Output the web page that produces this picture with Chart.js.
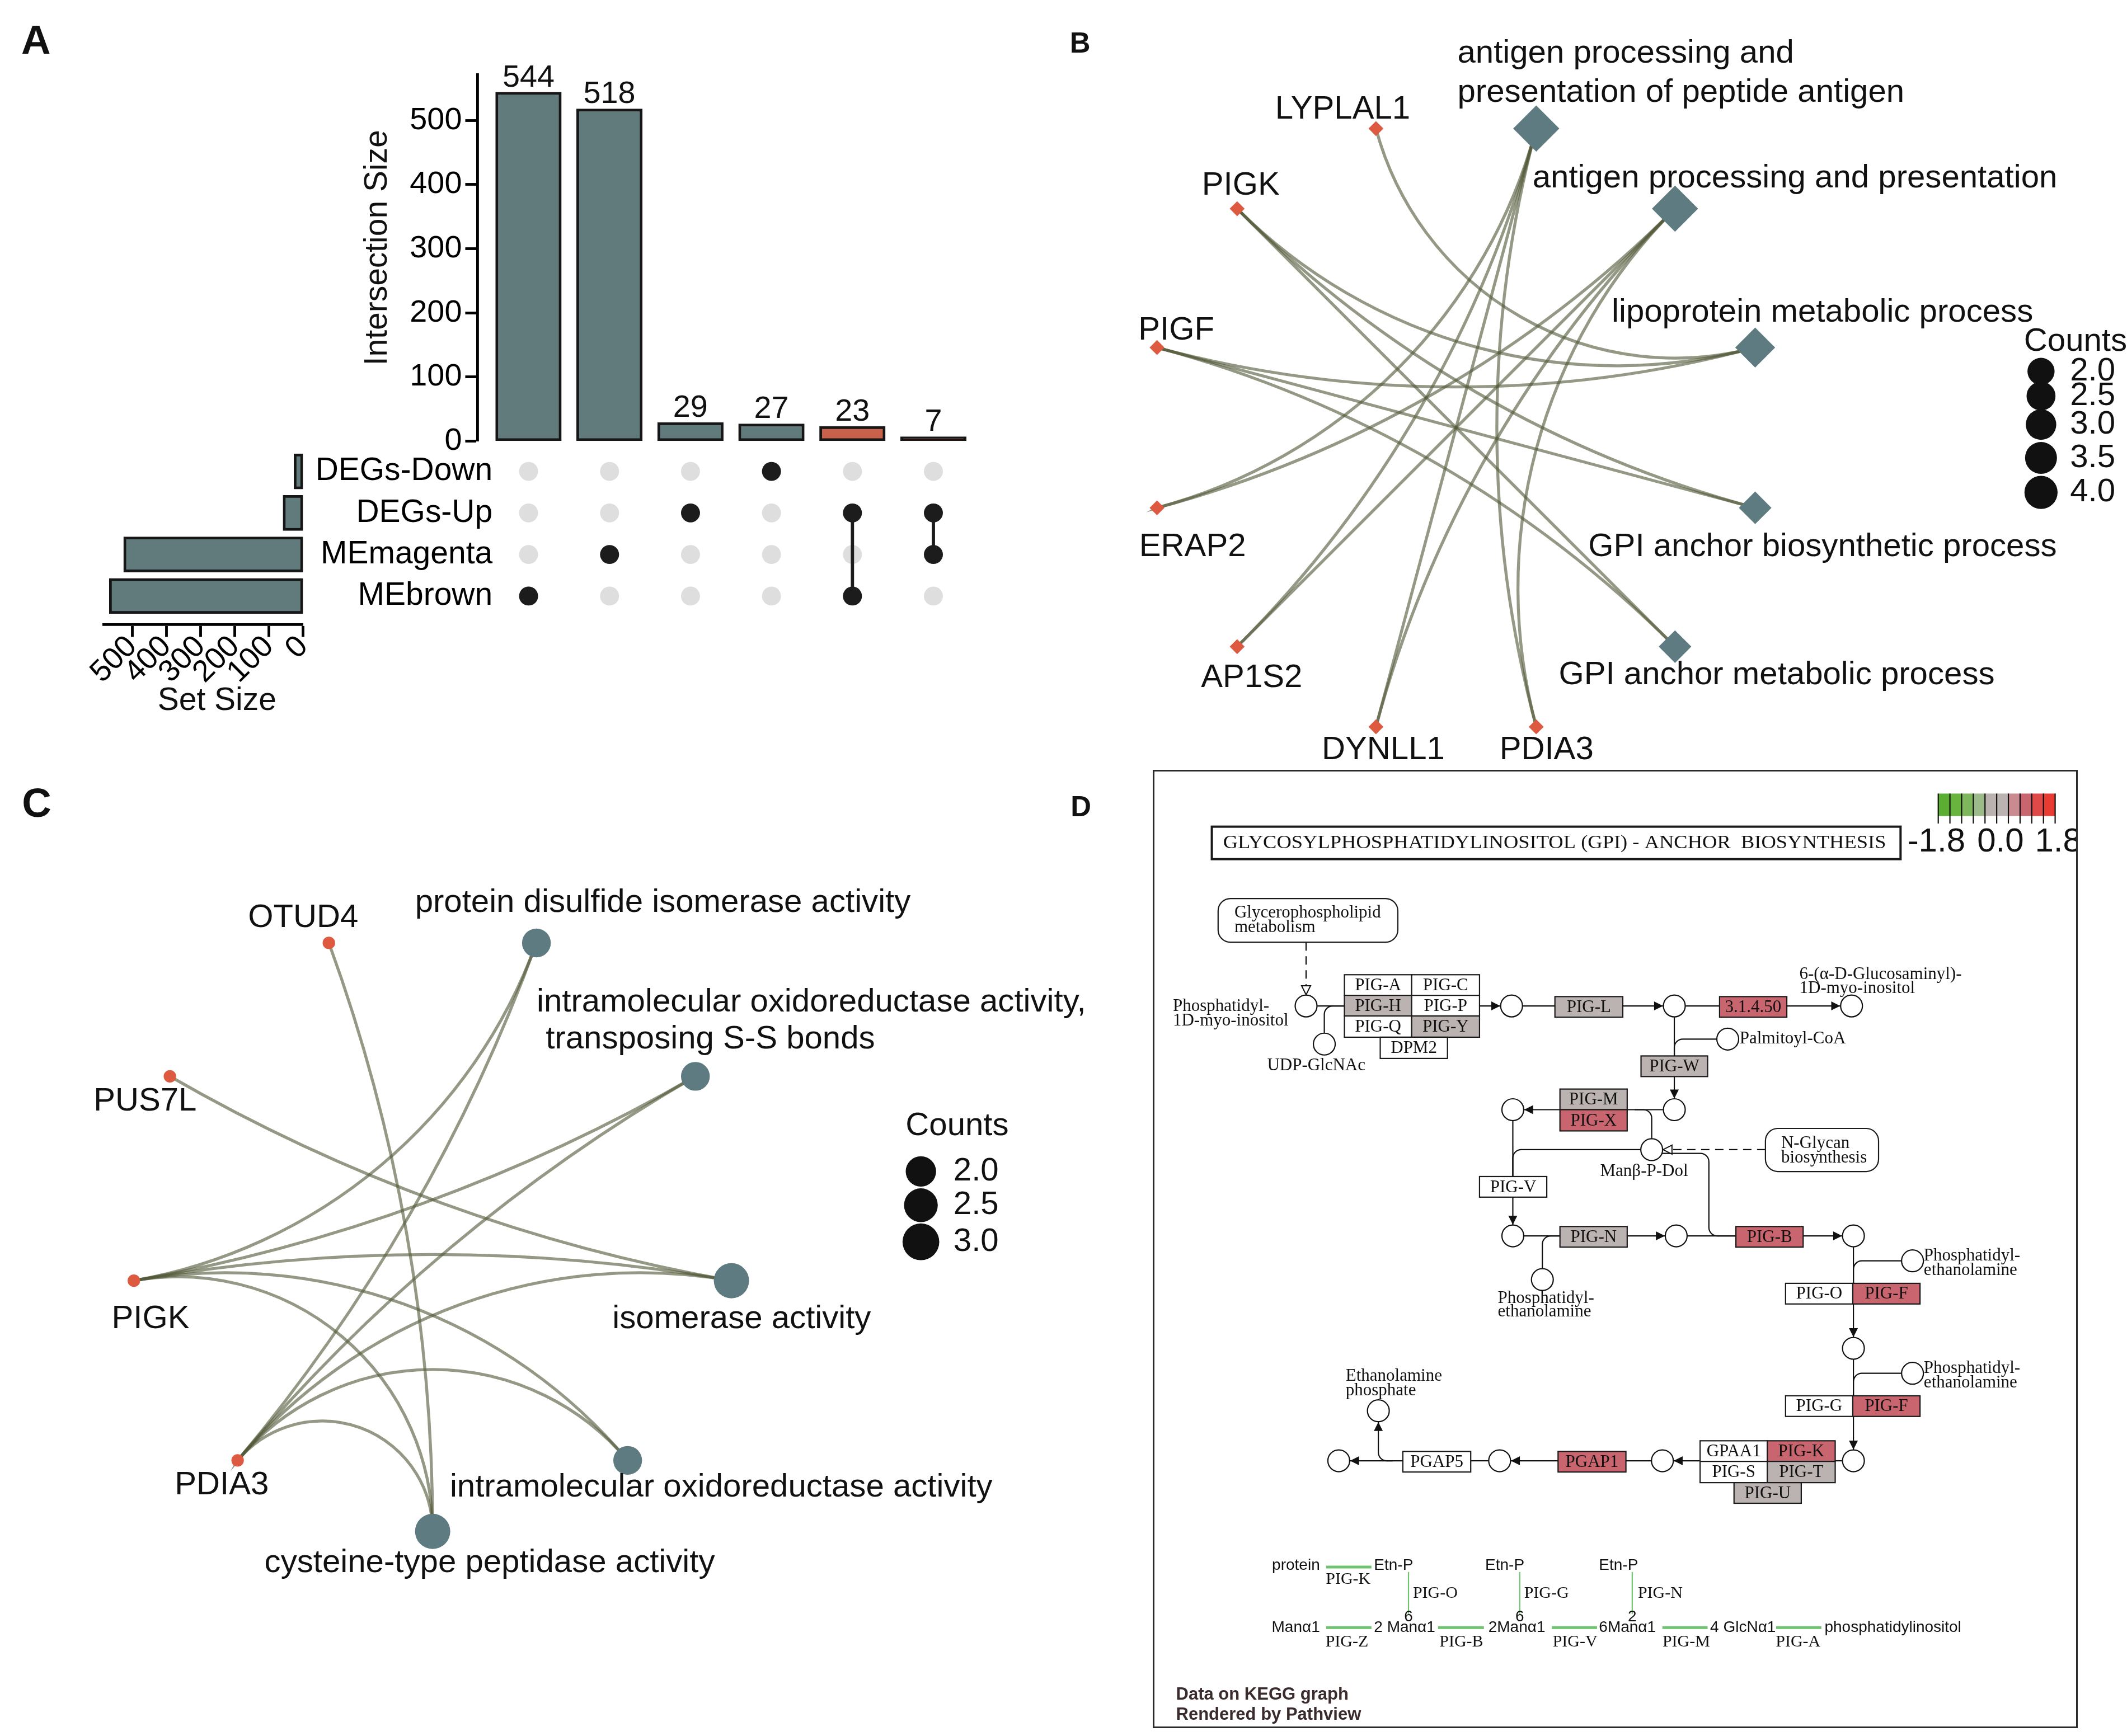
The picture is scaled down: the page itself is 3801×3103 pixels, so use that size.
<!DOCTYPE html>
<html><head><meta charset="utf-8"><title>Figure</title>
<script src="https://cdn.jsdelivr.net/npm/chart.js@4.4.1/dist/chart.umd.min.js"></script>
<style>
html,body{margin:0;padding:0;background:#fff}
#root{position:relative;width:3801px;height:3103px;overflow:hidden;background:#fff}
canvas{position:absolute;display:block}
</style>
</head><body><div id="root"></div>
<script>
// ================= DATA =================
// Panel A (UpSet)
const intersectionNames = ['MEbrown','MEmagenta','DEGs-Up','DEGs-Down','DEGs-Up & MEbrown','DEGs-Up & MEmagenta'];
const intersectionSizes = [544, 518, 29, 27, 23, 7];
const intersectionSets = [['MEbrown'],['MEmagenta'],['DEGs-Up'],['DEGs-Down'],['DEGs-Up','MEbrown'],['DEGs-Up','MEmagenta']];
const intersectionHighlight = [false, false, false, false, true, true];
const setNames = ['DEGs-Down','DEGs-Up','MEmagenta','MEbrown'];
const setSizes = [27, 59, 525, 567];
const intersectionTickStep = 100;
const setSizeTickStep = 100;

// Panel B (GO BP cnetplot)
const bGenes = ['LYPLAL1','PIGK','PIGF','ERAP2','AP1S2','DYNLL1','PDIA3'];
const bTerms = ['antigen processing and presentation of peptide antigen','antigen processing and presentation','lipoprotein metabolic process','GPI anchor biosynthetic process','GPI anchor metabolic process'];
const bTermCounts = [4, 4, 3, 2, 2];
const bEdges = [
  ['LYPLAL1','lipoprotein metabolic process'],
  ['PIGK','lipoprotein metabolic process'],['PIGK','GPI anchor biosynthetic process'],['PIGK','GPI anchor metabolic process'],
  ['PIGF','lipoprotein metabolic process'],['PIGF','GPI anchor biosynthetic process'],['PIGF','GPI anchor metabolic process'],
  ['ERAP2','antigen processing and presentation of peptide antigen'],['ERAP2','antigen processing and presentation'],
  ['AP1S2','antigen processing and presentation of peptide antigen'],['AP1S2','antigen processing and presentation'],
  ['DYNLL1','antigen processing and presentation of peptide antigen'],['DYNLL1','antigen processing and presentation'],
  ['PDIA3','antigen processing and presentation of peptide antigen'],['PDIA3','antigen processing and presentation']
];
const bLegendCounts = [2.0, 2.5, 3.0, 3.5, 4.0];

// Panel C (GO MF cnetplot)
const cGenes = ['OTUD4','PUS7L','PIGK','PDIA3'];
const cTerms = ['protein disulfide isomerase activity','intramolecular oxidoreductase activity, transposing S-S bonds','isomerase activity','intramolecular oxidoreductase activity','cysteine-type peptidase activity'];
const cTermCounts = [2, 2, 3, 2, 3];
const cEdges = [
  ['OTUD4','cysteine-type peptidase activity'],
  ['PUS7L','isomerase activity'],
  ['PIGK','protein disulfide isomerase activity'],['PIGK','intramolecular oxidoreductase activity, transposing S-S bonds'],['PIGK','isomerase activity'],['PIGK','intramolecular oxidoreductase activity'],['PIGK','cysteine-type peptidase activity'],
  ['PDIA3','protein disulfide isomerase activity'],['PDIA3','intramolecular oxidoreductase activity, transposing S-S bonds'],['PDIA3','isomerase activity'],['PDIA3','intramolecular oxidoreductase activity'],['PDIA3','cysteine-type peptidase activity']
];
const cLegendCounts = [2.0, 2.5, 3.0];

// Panel D (KEGG pathview)
const keggTitle = 'GLYCOSYLPHOSPHATIDYLINOSITOL (GPI) - ANCHOR  BIOSYNTHESIS';
const keggGeneNames  = ['PIG-A','PIG-C','PIG-H','PIG-P','PIG-Q','PIG-Y','DPM2','PIG-L','3.1.4.50','PIG-W','PIG-M','PIG-X','PIG-V','PIG-N','PIG-B','PIG-O','PIG-F','PIG-G','PIG-F','GPAA1','PIG-K','PIG-S','PIG-T','PIG-U','PGAP1','PGAP5'];
const keggGeneValues = [null,null,0,null,null,0,null,0,0.8,0,0,0.8,null,0,0.8,null,0.8,null,0.8,null,0.8,null,0,0,0.8,null];
const colorBarLimits = [-1.8, 1.8];
const colorBarLabels = ['-1.8','0.0','1.8'];

// ================= LAYOUT / STYLE =================
const S = 3801/1568, P = v => v*S;
const SANS = '"Liberation Sans", Arial, Helvetica, sans-serif';
const SERIF = '"Liberation Serif", "Times New Roman", serif';
const COL = {bar:'#617a7b', hi:'#c9624b', edge:'#161616', on:'#1c1c1c', off:'#dedede',
  gene:'#dd5a40', term:'#5e7b81', link:'rgba(82,90,58,0.62)', text:'#111'};
const colorBarCells = ['#5cae33','#69b33f','#7db65c','#9cba8a','#b9b2af','#bbb3b1','#c98a90','#c9656e','#df4a48','#e83b31'];

Chart.defaults.font.family = SANS;
Chart.defaults.color = '#000';

const root = document.getElementById('root');
function makeCanvas(x, y, w, h){
  const c = document.createElement('canvas');
  const W = Math.round(P(w)), H = Math.round(P(h));
  c.width = W; c.height = H;
  c.style.left = Math.round(P(x))+'px'; c.style.top = Math.round(P(y))+'px';
  c.style.width = W+'px'; c.style.height = H+'px';
  root.appendChild(c);
  return c;
}
function baseOpts(extra){
  return Object.assign({responsive:false, maintainAspectRatio:false, devicePixelRatio:1, animation:false, events:[],
    plugins:{legend:{display:false}, tooltip:{enabled:false}}}, extra);
}
function lay(p){ return {autoPadding:false, padding:p}; }
function txt(ctx, s, x, y, o){
  o = o || {};
  ctx.save();
  ctx.font = (o.weight||'normal')+' '+o.size+'px '+(o.family||SANS);
  ctx.fillStyle = o.color || COL.text;
  ctx.textAlign = o.align || 'left';
  ctx.textBaseline = o.baseline || 'middle';
  ctx.translate(x, y);
  if (o.rot) ctx.rotate(o.rot);
  if (o.w) { const m = ctx.measureText(s).width; ctx.scale(o.w/m, 1); }
  ctx.fillText(s, 0, 0);
  ctx.restore();
}

// ---------- Panel A geometry (page units of 1568-wide figure) ----------
const A = {barLeft:352, barRight:724, barTop:55, barBase:325.2, col1:389.6, pitch:59.7, barW:48.5,
  rowTop:347.6, rowPitch:30.6, matLeft:368, setLeft:76.5, setRight:223.5, setAxisY:460.6, setBarH:26};
const a1xMin = 1 - (A.col1 - A.barLeft)/A.pitch;
const aXMax = 1 + (A.barRight - A.col1)/A.pitch;
const a2xMin = 1 - (A.col1 - A.matLeft)/A.pitch;
const matTop = A.rowTop - A.rowPitch/2, matBottom = A.rowTop + 3.5*A.rowPitch;

// A1: intersection size bars
const A1 = {x:250, y:25, w:474, h:316.2};
const a1Plugin = {id:'a1', afterDatasetsDraw(chart){
  const ctx = chart.ctx, meta = chart.getDatasetMeta(0);
  meta.data.forEach((el,i)=>{
    txt(ctx, String(intersectionSizes[i]), el.x, el.y - P(4.2), {size:P(23), align:'center', baseline:'alphabetic'});
  });
  txt(ctx, 'Intersection Size', P(278.5-A1.x), P(182.5-A1.y), {size:P(23.5), align:'center', rot:-Math.PI/2});
}};
new Chart(makeCanvas(A1.x, A1.y, A1.w, A1.h), {
  type:'bar',
  data:{datasets:[{data:intersectionSizes.map((v,i)=>({x:i+1, y:v})),
    backgroundColor:intersectionHighlight.map(h=>h?COL.hi:COL.bar), borderColor:COL.edge,
    borderWidth:P(2), borderSkipped:false, barThickness:P(A.barW)}]},
  options:baseOpts({
    layout:lay({top:P(A.barTop-A1.y), bottom:P(A1.y+A1.h-A.barBase), left:0, right:0}),
    scales:{
      x:{type:'linear', display:false, offset:false, min:a1xMin, max:aXMax},
      y:{type:'linear', min:0, max:571, afterFit:s=>{s.width = P(A.barLeft-A1.x);},
        border:{display:true, color:'#000', width:P(2)},
        grid:{display:true, drawOnChartArea:false, drawTicks:true, tickLength:P(9), tickWidth:P(2), tickColor:'#000', color:'#000'},
        ticks:{stepSize:intersectionTickStep, includeBounds:false, font:{size:P(23)}, color:'#000', padding:P(2.5)}}
    }}),
  plugins:[a1Plugin]
});

// A2: membership matrix
const A2 = {x:200, y:matTop-20, w:524, h:(matBottom-matTop)+40};
const grayPts = [], onPts = [], linkSets = [];
intersectionSets.forEach((sets,i)=>{
  setNames.forEach(n=>grayPts.push({x:i+1, y:n}));
  sets.forEach(n=>onPts.push({x:i+1, y:n}));
  if (sets.length > 1){
    const idx = sets.map(n=>setNames.indexOf(n)).sort((a,b)=>a-b);
    linkSets.push({data:[{x:i+1, y:setNames[idx[0]]},{x:i+1, y:setNames[idx[idx.length-1]]}],
      showLine:true, borderColor:COL.on, borderWidth:P(2.4), pointRadius:0, order:1});
  }
});
new Chart(makeCanvas(A2.x, A2.y, A2.w, A2.h), {
  type:'scatter',
  data:{datasets:[
    {data:onPts, pointRadius:P(7), pointBackgroundColor:COL.on, pointBorderWidth:0, order:0},
    ...linkSets,
    {data:grayPts, pointRadius:P(7), pointBackgroundColor:COL.off, pointBorderWidth:0, order:2}
  ]},
  options:baseOpts({
    layout:lay({top:P(20), bottom:P(20), left:0, right:0}),
    scales:{
      x:{type:'linear', display:false, min:a2xMin, max:aXMax},
      y:{type:'category', labels:setNames, offset:true, afterFit:s=>{s.width = P(A.matLeft-A2.x);},
        border:{display:false}, grid:{display:false, drawTicks:false},
        ticks:{font:{size:P(23.5)}, color:'#000', padding:P(5)}}
    }})
});

// A3: set size bars
const A3 = {x:0, y:0, w:290, h:535};
const a3Plugin = {id:'a3', afterDraw(chart){
  const ctx = chart.ctx;
  txt(ctx, 'Set Size', P(160), P(517), {size:P(23.5), align:'center'});
  txt(ctx, 'A', P(26.5), P(31.5), {size:P(30), weight:'bold', align:'center'});
}};
new Chart(makeCanvas(A3.x, A3.y, A3.w, A3.h), {
  type:'bar',
  data:{datasets:[{data:setSizes.map((v,i)=>({x:v, y:i+1})), backgroundColor:COL.bar, borderColor:COL.edge,
    borderWidth:P(2), borderSkipped:false, barThickness:P(A.setBarH)}]},
  options:baseOpts({
    indexAxis:'y',
    layout:lay({top:P(matTop), left:P(A.setLeft), right:P(A3.w-A.setRight), bottom:0}),
    scales:{
      y:{type:'linear', display:false, offset:false, reverse:true, min:0.5, max:4 + (A.setAxisY - (A.rowTop+3*A.rowPitch))/A.rowPitch},
      x:{type:'linear', reverse:true, min:0, max:583, position:'bottom', afterFit:s=>{s.height = P(A3.h - A.setAxisY);},
        border:{display:true, color:'#000', width:P(2)},
        grid:{display:true, drawOnChartArea:false, drawTicks:true, tickLength:P(9), tickWidth:P(2), tickColor:'#000', color:'#000'},
        ticks:{stepSize:setSizeTickStep, includeBounds:false, autoSkip:false, minRotation:45, maxRotation:45, font:{size:P(22.5)}, color:'#000', padding:-P(6)}}
    }}),
  plugins:[a3Plugin]
});

// ---------- Network helpers ----------
function circPos(L, i){ const a = (L.start + L.step*i)*Math.PI/180; return {x:L.cx + L.r*Math.cos(a), y:L.cy - L.r*Math.sin(a)}; }
function arcEdge(ctx, p1, p2, c){
  const v1x=p1.x-c.x, v1y=p1.y-c.y, v2x=p2.x-c.x, v2y=p2.y-c.y;
  const R1 = Math.hypot(v1x,v1y), R2 = Math.hypot(v2x,v2y);
  const th = Math.acos(Math.max(-1, Math.min(1, (v1x*v2x+v1y*v2y)/(R1*R2))));
  ctx.beginPath(); ctx.moveTo(p1.x, p1.y);
  if (Math.PI - th < 1e-3) ctx.lineTo(p2.x, p2.y);
  else { ctx.arcTo(c.x, c.y, p2.x, p2.y, R1*Math.tan(th/2)); ctx.lineTo(p2.x, p2.y); }
  ctx.stroke();
}
function networkPlugin(id, L, order, edges, labels, legend, letters){
  return {id,
    beforeDatasetsDraw(chart){
      const ctx = chart.ctx, sx = chart.scales.x, sy = chart.scales.y;
      const px = p => ({x:sx.getPixelForValue(p.x), y:sy.getPixelForValue(p.y)});
      const c = px({x:L.cx, y:L.cy});
      ctx.save(); ctx.strokeStyle = COL.link; ctx.lineWidth = P(2.2); ctx.lineCap = 'round';
      edges.forEach(e=>{ arcEdge(ctx, px(circPos(L, order.indexOf(e[0]))), px(circPos(L, order.indexOf(e[1]))), c); });
      ctx.restore();
    },
    afterDatasetsDraw(chart){
      const ctx = chart.ctx, sx = chart.scales.x, sy = chart.scales.y;
      const X = v => sx.getPixelForValue(v), Y = v => sy.getPixelForValue(v);
      Object.keys(labels).forEach(k=>{
        const lb = labels[k], lines = lb.lines || [k];
        lines.forEach((s,j)=> txt(ctx, s, X(lb.x), Y(lb.y + j*(lb.lh||0)), {size:P(24), align:lb.align||'left'}));
      });
      txt(ctx, 'Counts', X(legend.x), Y(legend.titleY), {size:P(24)});
      legend.counts.forEach((cnt,i)=>{
        ctx.save(); ctx.fillStyle = '#111'; ctx.beginPath();
        ctx.arc(X(legend.cx), Y(legend.ys[i]), P(legend.rad(cnt)), 0, Math.PI*2); ctx.fill(); ctx.restore();
      });
      legend.counts.forEach((cnt,i)=> txt(ctx, cnt.toFixed(1), X(legend.tx), Y(legend.ys[i]), {size:P(24)}));
      letters.forEach(l=> txt(ctx, l.t, X(l.x), Y(l.y), {size:P(l.size), weight:'bold', align:'center'}));
    }
  };
}

// ---------- Panel B ----------
const bLayout = {cx:1073.3, cy:315.3, r:228.3, start:75, step:-30};
const bOrder = [bTerms[0], bTerms[1], bTerms[2], bTerms[3], bTerms[4], 'PDIA3','DYNLL1','AP1S2','ERAP2','PIGF','PIGK','LYPLAL1'];
const bLabels = {};
bLabels[bTerms[0]] = {x:1074.3, y:39.4, lh:29.2, lines:['antigen processing and','presentation of peptide antigen']};
bLabels[bTerms[1]] = {x:1129.7, y:131.4};
bLabels[bTerms[2]] = {x:1188, y:230.7};
bLabels[bTerms[3]] = {x:1170.8, y:403.3};
bLabels[bTerms[4]] = {x:1149, y:498};
Object.assign(bLabels, {
  'PDIA3':{x:1140, y:553, align:'center'}, 'DYNLL1':{x:1019.6, y:553, align:'center'},
  'AP1S2':{x:922.6, y:500, align:'center'}, 'ERAP2':{x:879, y:403.3, align:'center'},
  'PIGF':{x:867, y:243.8, align:'center'}, 'PIGK':{x:914.5, y:136.9, align:'center'},
  'LYPLAL1':{x:989.7, y:81, align:'center'}});
const bLegend = {x:1492, titleY:251.9, cx:1504.6, tx:1526, ys:[273.8, 292, 313, 337.6, 363], counts:bLegendCounts, rad:c=>10*Math.pow(c/2,0.29)};
const B = {x:770, y:0, w:798, h:570};
new Chart(makeCanvas(B.x, B.y, B.w, B.h), {
  type:'scatter',
  data:{datasets:[
    {data:bGenes.map(g=>circPos(bLayout, bOrder.indexOf(g))), pointStyle:'rectRot', pointRadius:P(5.5), pointBackgroundColor:COL.gene, pointBorderWidth:0},
    {data:bTerms.map(t=>circPos(bLayout, bOrder.indexOf(t))), pointStyle:'rectRot', pointRadius:bTermCounts.map(c=>P(8.5*Math.sqrt(c))), pointBackgroundColor:COL.term, pointBorderWidth:0}
  ]},
  options:baseOpts({layout:lay(0), scales:{
    x:{type:'linear', display:false, min:B.x, max:B.x+B.w},
    y:{type:'linear', display:false, min:B.y, max:B.y+B.h, reverse:true}}}),
  plugins:[networkPlugin('netB', bLayout, bOrder, bEdges, bLabels, bLegend, [{t:'B', x:796, y:33, size:21}])]
});

// ---------- Panel C ----------
const cLayout = {cx:319, cy:905.4, r:223.7, start:70, step:40};
const cOrder = [cTerms[0],'OTUD4','PUS7L','PIGK','PDIA3', cTerms[4], cTerms[3], cTerms[2], cTerms[1]];
const cLabels = {};
cLabels[cTerms[0]] = {x:306, y:665.7};
cLabels[cTerms[1]] = {x:395.7, y:739, lh:27.5, lines:['intramolecular oxidoreductase activity,',' transposing S-S bonds']};
cLabels[cTerms[2]] = {x:451.5, y:972.7};
cLabels[cTerms[3]] = {x:331.7, y:1097};
cLabels[cTerms[4]] = {x:195, y:1152.5};
Object.assign(cLabels, {
  'OTUD4':{x:223.5, y:677, align:'center'}, 'PUS7L':{x:107, y:812, align:'center'},
  'PIGK':{x:111, y:972.7, align:'center'}, 'PDIA3':{x:163.5, y:1095, align:'center'}});
const cLegend = {x:667.7, titleY:830.3, cx:679, tx:703, ys:[863.7, 888.6, 915.6], counts:cLegendCounts, rad:c=>11.2*Math.pow(c/2,0.47)};
const C = {x:0, y:570, w:845, h:710};
new Chart(makeCanvas(C.x, C.y, C.w, C.h), {
  type:'scatter',
  data:{datasets:[
    {data:cGenes.map(g=>circPos(cLayout, cOrder.indexOf(g))), pointStyle:'circle', pointRadius:P(4.6), pointBackgroundColor:COL.gene, pointBorderWidth:0},
    {data:cTerms.map(t=>circPos(cLayout, cOrder.indexOf(t))), pointStyle:'circle', pointRadius:cTermCounts.map(c=>P(7.5*Math.sqrt(c))), pointBackgroundColor:COL.term, pointBorderWidth:0}
  ]},
  options:baseOpts({layout:lay(0), scales:{
    x:{type:'linear', display:false, min:C.x, max:C.x+C.w},
    y:{type:'linear', display:false, min:C.y, max:C.y+C.h, reverse:true}}}),
  plugins:[networkPlugin('netC', cLayout, cOrder, cEdges, cLabels, cLegend, [{t:'C', x:27, y:594, size:30},{t:'D', x:797, y:596, size:21}])]
});

// ---------- Panel D (KEGG diagram, diagram units) ----------
const keggBoxLayout = [
  [323,342,430,375],[430,342,538,375],[323,375,430,408],[430,375,538,408],[323,408,430,442],[430,408,538,442],[380,442,487,476],
  [658,377,766,410],[920,377,1027,410],[795,472,901,505],[666,525,773,558],[666,558,773,592],[538,665,645,698],
  [666,745,773,778],[946,745,1053,778],[1025,836,1132,869],[1132,836,1239,869],[1025,1016,1132,1049],[1132,1016,1239,1049],
  [889,1088,996,1121],[996,1088,1104,1121],[889,1121,996,1155],[996,1121,1104,1155],[943,1155,1050,1188],
  [663,1105,771,1138],[416,1105,524,1138]];
const keggCompoundLayout = [[262,392],[291,453],[589,392],[848,392],[1130,392],[933,445],[848,558],[591,558],[812,622],
  [591,760],[851,760],[1133,760],[638,830],[1227,800],[1133,940],[1227,980],[1133,1120],[829,1120],[570,1120],[377,1040],[314,1120]];
const keggConnectorLayout = [
  {pts:[[280,392],[323,392]]},
  {pts:[[291,436],[291,392],[323,392]]},
  {pts:[[262,290],[262,374]], dash:true, arrow:'hollow'},
  {pts:[[538,392],[571,392]], arrow:'fill'},
  {pts:[[607,392],[658,392]]},
  {pts:[[766,392],[830,392]], arrow:'fill'},
  {pts:[[866,392],[920,392]]},
  {pts:[[1027,392],[1112,392]], arrow:'fill'},
  {pts:[[848,410],[848,472]]},
  {pts:[[915,445],[848,445],[848,472]]},
  {pts:[[848,505],[848,540]], arrow:'fill'},
  {pts:[[830,558],[773,558]]},
  {pts:[[666,558],[609,558]], arrow:'fill'},
  {pts:[[785,558],[812,558],[812,604]]},
  {pts:[[591,576],[591,665]]},
  {pts:[[794,622],[591,622],[591,665]]},
  {pts:[[591,698],[591,742]], arrow:'fill'},
  {pts:[[609,760],[666,760]]},
  {pts:[[638,812],[638,760],[666,760]]},
  {pts:[[773,760],[833,760]], arrow:'fill'},
  {pts:[[869,760],[946,760]]},
  {pts:[[828,628],[903,628],[903,760],[946,760]]},
  {pts:[[993,622],[830,622]], dash:true, arrow:'hollow'},
  {pts:[[1053,760],[1115,760]], arrow:'fill'},
  {pts:[[1133,778],[1133,922]], arrow:'fill'},
  {pts:[[1209,800],[1133,800],[1133,836]]},
  {pts:[[1133,958],[1133,1102]], arrow:'fill'},
  {pts:[[1209,980],[1133,980],[1133,1016]]},
  {pts:[[1115,1120],[1104,1120]]},
  {pts:[[889,1120],[847,1120]], arrow:'fill'},
  {pts:[[811,1120],[771,1120]]},
  {pts:[[663,1120],[588,1120]], arrow:'fill'},
  {pts:[[552,1120],[524,1120]]},
  {pts:[[416,1120],[332,1120]], arrow:'fill'},
  {pts:[[400,1120],[377,1120],[377,1058]], arrow:'fill'}];
const keggRoundBoxLayout = [[122,220,408,290],[993,588,1173,657]];
const keggTextLayout = [
  ['Glycerophospholipid',148,243],['metabolism',148,266],['Phosphatidyl-',50,393],['1D-myo-inositol',50,416],
  ['UDP-GlcNAc',200,488],['6-(\u03b1-D-Glucosaminyl)-',1047,342],['1D-myo-inositol',1047,364],['Palmitoyl-CoA',952,445],
  ['Man\u03b2-P-Dol',730,657],['N-Glycan',1018,612],['biosynthesis',1018,635],['Phosphatidyl-',567,860],['ethanolamine',567,882],
  ['Phosphatidyl-',1245,792],['ethanolamine',1245,815],['Phosphatidyl-',1245,972],['ethanolamine',1245,995],
  ['Ethanolamine',325,985],['phosphate',325,1008]];
const greenTextLayout = [
  ['protein',284,1288,'right','s'],['Etn-P',370,1288,'left','s'],['PIG-K',329,1310,'center','r'],
  ['PIG-O',432,1332,'left','r'],['6',425,1370,'center','s'],
  ['Etn-P',547,1288,'left','s'],['PIG-G',609,1332,'left','r'],['6',602,1370,'center','s'],
  ['Etn-P',728,1288,'left','s'],['PIG-N',790,1332,'left','r'],['2',781,1370,'center','s'],
  ['Man\u03b11',284,1387,'right','s'],['2 Man\u03b11',370,1387,'left','s'],['2Man\u03b11',552,1387,'left','s'],
  ['6Man\u03b11',728,1387,'left','s'],['4 GlcN\u03b11',905,1387,'left','s'],['phosphatidylinositol',1087,1387,'left','s'],
  ['PIG-Z',327,1410,'center','r'],['PIG-B',509,1410,'center','r'],['PIG-V',690,1410,'center','r'],['PIG-M',867,1410,'center','r'],['PIG-A',1045,1410,'center','r']];
const greenLineLayout = [[294,1290,366,1290,5],[425,1298,425,1365,2.2],[602,1298,602,1365,2.2],[781,1298,781,1365,2.2],
  [294,1387,366,1387,5],[472,1387,545,1387,5],[653,1387,725,1387,5],[829,1387,901,1387,5],[1010,1387,1082,1387,5]];
const colorBarLayout = {x1:1268, x2:1454, y1:52, y2:88, tickY2:100, labelY:130, labelX:[1265, 1367, 1459]};

function valColor(v){
  if (v === null || v === undefined) return '#ffffff';
  const n = colorBarCells.length, w = (colorBarLimits[1]-colorBarLimits[0])/n;
  let i = Math.floor((v - colorBarLimits[0])/w); i = Math.max(0, Math.min(n-1, i));
  return colorBarCells[i];
}
function poly(ctx, pts, r){
  ctx.beginPath(); ctx.moveTo(pts[0][0], pts[0][1]);
  for (let i=1;i<pts.length-1;i++) ctx.arcTo(pts[i][0], pts[i][1], pts[i+1][0], pts[i+1][1], r);
  ctx.lineTo(pts[pts.length-1][0], pts[pts.length-1][1]);
  ctx.stroke();
}
function arrowHead(ctx, from, to, hollow){
  const a = Math.atan2(to[1]-from[1], to[0]-from[0]), L = 16, Wd = 8;
  ctx.save(); ctx.translate(to[0], to[1]); ctx.rotate(a);
  ctx.beginPath(); ctx.moveTo(0,0); ctx.lineTo(-L, -Wd); ctx.lineTo(-L, Wd); ctx.closePath();
  if (hollow){ ctx.fillStyle='#fff'; ctx.fill(); ctx.lineWidth=2; ctx.strokeStyle='#111'; ctx.stroke(); }
  else { ctx.fillStyle='#111'; ctx.fill(); }
  ctx.restore();
}
function roundRect(ctx, x1, y1, x2, y2, r){
  ctx.beginPath(); ctx.moveTo(x1+r, y1); ctx.arcTo(x2, y1, x2, y2, r); ctx.arcTo(x2, y2, x1, y2, r);
  ctx.arcTo(x1, y2, x1, y1, r); ctx.arcTo(x1, y1, x2, y1, r); ctx.closePath();
}
const dPlugin = {id:'kegg',
  beforeDatasetsDraw(chart){
    const ctx = chart.ctx, X = v=>chart.scales.x.getPixelForValue(v), Y = v=>chart.scales.y.getPixelForValue(v);
    ctx.save();
    ctx.lineWidth = 2.2; ctx.strokeStyle = '#111';
    keggConnectorLayout.forEach(c=>{ ctx.setLineDash(c.dash ? [15,10] : []); poly(ctx, c.pts.map(p=>[X(p[0]), Y(p[1])]), 15); });
    ctx.setLineDash([]);
    ctx.restore();
  },
  afterDatasetsDraw(chart){
    const ctx = chart.ctx, X = v=>chart.scales.x.getPixelForValue(v), Y = v=>chart.scales.y.getPixelForValue(v);
    const a = chart.chartArea;
    ctx.save();
    keggConnectorLayout.forEach(c=>{
      if (!c.arrow) return;
      const n = c.pts.length, f = c.pts[n-2], t = c.pts[n-1];
      arrowHead(ctx, [X(f[0]),Y(f[1])], [X(t[0]),Y(t[1])], c.arrow === 'hollow');
    });
    keggGeneNames.forEach((g,i)=>{
      const b = keggBoxLayout[i];
      const x1=X(b[0]), y1=Y(b[1]), x2=X(b[2]), y2=Y(b[3]);
      ctx.fillStyle = valColor(keggGeneValues[i]); ctx.fillRect(x1, y1, x2-x1, y2-y1);
      ctx.lineWidth = 2.2; ctx.strokeStyle = '#1a1a1a'; ctx.strokeRect(x1, y1, x2-x1, y2-y1);
      txt(ctx, g, (x1+x2)/2, (y1+y2)/2 + 1, {size:31, family:SERIF, align:'center', color:'#111'});
    });
    keggRoundBoxLayout.forEach(b=>{
      ctx.lineWidth = 2.2; ctx.strokeStyle = '#1a1a1a'; ctx.fillStyle = '#fff';
      roundRect(ctx, X(b[0]), Y(b[1]), X(b[2]), Y(b[3]), 22); ctx.fill(); ctx.stroke();
    });
    keggTextLayout.forEach(t=> txt(ctx, t[0], X(t[1]), Y(t[2]), {size:31, family:SERIF, color:'#111'}));
    ctx.lineWidth = 4; ctx.strokeStyle = '#1a1a1a';
    ctx.strokeRect(X(112), Y(105), X(1208)-X(112), Y(157)-Y(105));
    txt(ctx, keggTitle, X(657.5), Y(131), {size:34, family:SERIF, align:'center', w:X(1185)-X(130), color:'#111'});
    const cb = colorBarLayout, n = colorBarCells.length, cw = (cb.x2-cb.x1)/n;
    colorBarCells.forEach((c,i)=>{ ctx.fillStyle = c; ctx.fillRect(X(cb.x1+i*cw), Y(cb.y1), X(cb.x1+(i+1)*cw)-X(cb.x1+i*cw)+0.5, Y(cb.y2)-Y(cb.y1)); });
    ctx.strokeStyle = '#111'; ctx.lineWidth = 2.2;
    for (let i=0;i<=n;i++){ ctx.beginPath(); ctx.moveTo(X(cb.x1+i*cw), Y(cb.y1)); ctx.lineTo(X(cb.x1+i*cw), Y(cb.tickY2)); ctx.stroke(); }
    cb.labelX.forEach((x,i)=> txt(ctx, colorBarLabels[i], X(x), Y(cb.labelY), {size:60, align:'center', color:'#111'}));
    ctx.strokeStyle = '#6fc26f';
    greenLineLayout.forEach(l=>{ ctx.lineWidth = l[4]; ctx.beginPath(); ctx.moveTo(X(l[0]), Y(l[1])); ctx.lineTo(X(l[2]), Y(l[3])); ctx.stroke(); });
    greenTextLayout.forEach(t=> txt(ctx, t[0], X(t[1]), Y(t[2]), {size: t[4]==='s' ? 28 : 30, family: t[4]==='s' ? SANS : SERIF, align:t[3], color:'#111'}));
    txt(ctx, 'Data on KEGG graph', X(55), Y(1495), {size:31, weight:'bold', color:'#3a2c2c'});
    txt(ctx, 'Rendered by Pathview', X(55), Y(1527), {size:31, weight:'bold', color:'#3a2c2c'});
    // outer frame (drawn last so it overlays clipped label)
    ctx.lineWidth = 3; ctx.strokeStyle = '#2a2a2a';
    ctx.strokeRect(a.left+1.5, a.top+1.5, a.right-a.left-3, a.bottom-a.top-3);
    ctx.restore();
  }
};
const D = {x:850, y:567.5, w:682, h:706.8};
new Chart(makeCanvas(D.x, D.y, D.w, D.h), {
  type:'scatter',
  data:{datasets:[{data:keggCompoundLayout.map(p=>({x:p[0], y:p[1]})), pointStyle:'circle', pointRadius:19.5,
    pointBackgroundColor:'#ffffff', pointBorderColor:'#111', pointBorderWidth:2.2}]},
  options:baseOpts({layout:lay(0), scales:{
    x:{type:'linear', display:false, min:18, max:1490},
    y:{type:'linear', display:false, min:14, max:1548, reverse:true}}}),
  plugins:[dPlugin]
});
</script>
</body></html>
